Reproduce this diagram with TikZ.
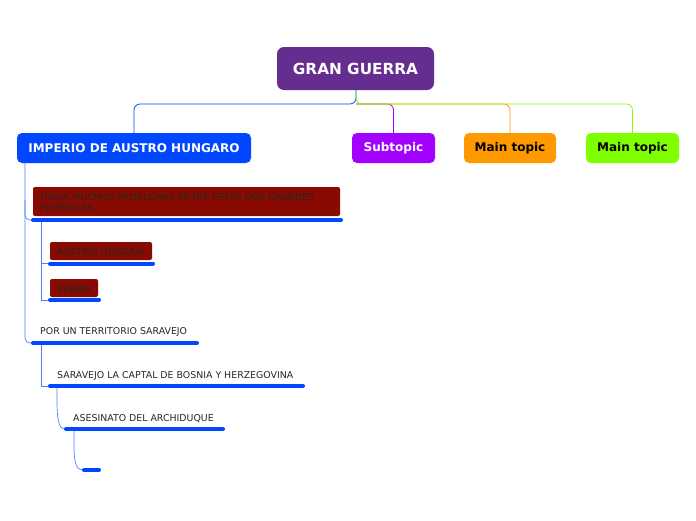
\documentclass[tikz,border=0pt]{standalone}
\usepackage{fontspec}
\setmainfont{DejaVu Sans}
\begin{document}
\begin{tikzpicture}[x=1pt,y=-1pt,
  topbox/.style={rounded corners=5pt,inner sep=0pt,font=\bfseries\fontsize{12}{14}\selectfont},
  sub/.style={font=\fontsize{9.4}{11}\selectfont,text=black!85,anchor=base west,inner sep=0pt,align=left},
  redbox/.style={rounded corners=2pt,inner sep=0pt},
  conn/.style={line width=0.8pt,rounded corners=6pt},
  thin/.style={line width=0.7pt,draw=blueA!70}]
\definecolor{rootc}{HTML}{662D91}
\definecolor{blueA}{HTML}{0047FF}
\definecolor{purp}{HTML}{A200FF}
\definecolor{orng}{HTML}{FF9900}
\definecolor{grn}{HTML}{80FF00}
\definecolor{dred}{HTML}{880A00}
\tikzset{uline/.style={line width=4pt,line cap=round,draw=blueA}}
\useasboundingbox (0,0) rectangle (696,520);
% top-level nodes
\node[topbox,fill=rootc,text=white,minimum width=157pt,minimum height=43pt,rounded corners=7pt,font=\bfseries\fontsize{15.3}{17}\selectfont] (root) at (355.5,68.5) {GRAN GUERRA};
\node[topbox,fill=blueA,text=white,minimum width=234pt,minimum height=30pt] (imp) at (134,148) {IMPERIO DE AUSTRO HUNGARO};
\node[topbox,fill=purp,text=white,minimum width=83pt,minimum height=30pt] (subt) at (393.5,148) {Subtopic};
\node[topbox,fill=orng,text=black,minimum width=92pt,minimum height=30pt] (mt1) at (510,148) {Main topic};
\node[topbox,fill=grn,text=black,minimum width=93pt,minimum height=30pt] (mt2) at (632.5,148) {Main topic};
% connectors from root
\coordinate (j) at (356,104);
\draw[conn,blueA] (root.south -| j) -- (j) -- (j -| imp.north) -- (imp.north);
\draw[conn,purp] (j) -- (j -| subt.north) -- (subt.north);
\draw[conn,orng] (j) -- (j -| mt1.north) -- (mt1.north);
\draw[conn,grn] (root.south -| j) -- (j) -- (j -| mt2.north) -- (mt2.north);
% sub-topics
\node[redbox,fill=dred,minimum width=307pt,minimum height=29pt] (hab) at (186.5,201.5) {};
\node[sub] (habt) at (40,211.5) {HABIA MUCHOS PROBLEMAS ENTRE ESTAS DOS GRANDES\\POTENCIAS};
\coordinate (habL) at (33,220); \coordinate (habR) at (341,220);
\node[redbox,fill=dred,minimum width=102pt,minimum height=18pt] (aus) at (101,251) {};
\node[sub] (aust) at (57,255) {AUSTRIA HUNGRIA};
\coordinate (ausL) at (50,263.5); \coordinate (ausR) at (153,263.5);
\node[redbox,fill=dred,minimum width=48pt,minimum height=18pt] (ser) at (74,288) {};
\node[sub] (sert) at (57,292) {SERBIA};
\coordinate (serL) at (50,300); \coordinate (serR) at (99,300);
\node[sub] (port) at (40,334.5) {POR UN TERRITORIO SARAVEJO};
\coordinate (porL) at (33,343); \coordinate (porR) at (197,343);
\node[sub] (sart) at (57,378.5) {SARAVEJO LA CAPTAL DE BOSNIA Y HERZEGOVINA};
\coordinate (sarL) at (50,386); \coordinate (sarR) at (303,386);
\node[sub] (aset) at (73,421.5) {ASESINATO DEL ARCHIDUQUE};
\coordinate (aseL) at (66,429); \coordinate (aseR) at (223,429);
\coordinate (empL) at (84,470); \coordinate (empR) at (99,470);
% thin connectors
\draw[thin,rounded corners=5pt] (25,163) -- (25,220) -- (habL);
\draw[thin,rounded corners=5pt] (25,200) -- (25,343) -- (porL);
\draw[thin] (41,220) -- (41,263.5) -- (ausL);
\draw[thin] (41,263) -- (41,300) -- (serL);
\draw[thin] (41,343) -- (41,386) -- (sarL);
\draw[thin] (57,386) -- (57,400) .. controls (57,425) and (60,429) .. (aseL);
\draw[thin] (74,429) -- (74,445) .. controls (74,466) and (77,470) .. (empL);
% underlines
\draw[uline] (habL) -- (habR);
\draw[uline] (ausL) -- (ausR);
\draw[uline] (serL) -- (serR);
\draw[uline] (porL) -- (porR);
\draw[uline] (sarL) -- (sarR);
\draw[uline] (aseL) -- (aseR);
\draw[uline] (empL) -- (empR);
\end{tikzpicture}
\end{document}
